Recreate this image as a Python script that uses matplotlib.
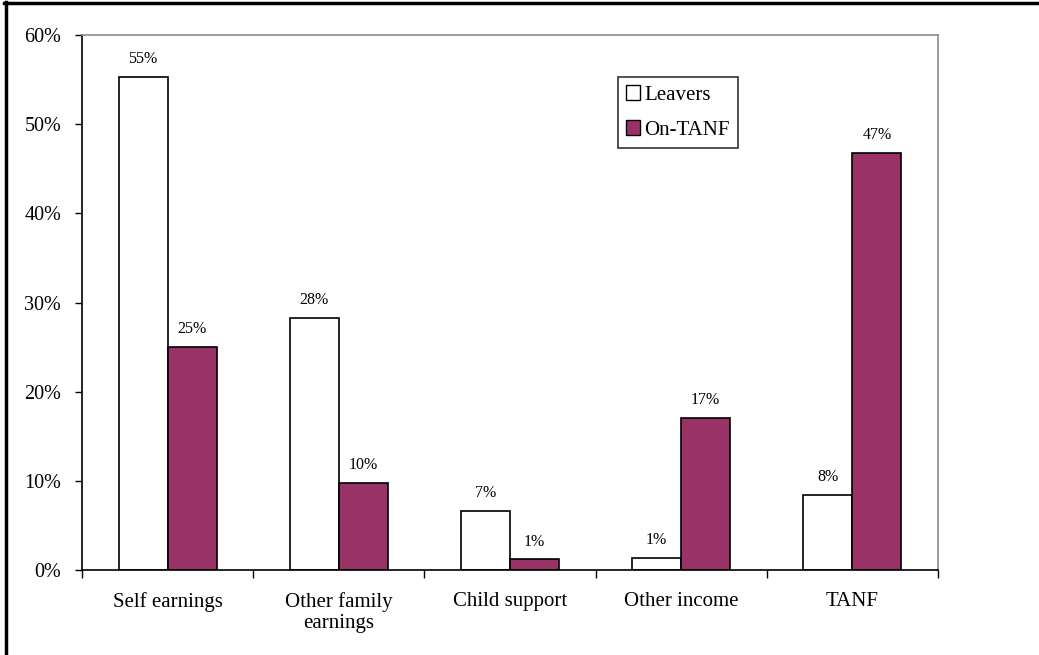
import matplotlib
matplotlib.use("Agg")
import matplotlib.pyplot as plt
import numpy as np
from matplotlib.patches import Patch
from matplotlib.lines import Line2D
from matplotlib.ticker import FuncFormatter, FixedLocator

plt.rcParams['font.family'] = ['Liberation Serif', 'DejaVu Serif']

categories = ["Self earnings", "Other family\nearnings", "Child support", "Other income", "TANF"]
leavers = [55.3, 28.3, 6.6, 1.4, 8.4]
on_tanf = [25.0, 9.8, 1.2, 17.1, 46.8]
series_names = ["Leavers", "On-TANF"]
y_ticks = [0, 10, 20, 30, 40, 50, 60]

purple = "#993366"

fig = plt.figure(figsize=(10.39, 6.55), dpi=100)
ax = fig.add_axes([82 / 1039, 1 - 570 / 655, (938 - 82) / 1039, (570 - 35) / 655])

x = np.arange(len(categories))
w = 0.286
b1 = ax.bar(x - w / 2, leavers, w, color="white", edgecolor="black", linewidth=1.2)
b2 = ax.bar(x + w / 2, on_tanf, w, color=purple, edgecolor="black", linewidth=1.2)

for bars, vals in ((b1, leavers), (b2, on_tanf)):
    for rect, v in zip(bars, vals):
        ax.annotate(f"{v:.0f}%", (rect.get_x() + rect.get_width() / 2, v),
                    xytext=(0, 7), textcoords="offset points",
                    ha="center", va="bottom", fontsize=11.5)

ax.set_xlim(-0.5, len(categories) - 0.5)
ax.set_ylim(0, 60)
ax.set_yticks(y_ticks)
ax.yaxis.set_major_formatter(FuncFormatter(lambda v, p: f"{v:.0f}%"))
ax.tick_params(axis="y", direction="out", length=5, width=1, labelsize=14.5, pad=10)

ax.set_xticks(x)
ax.set_xticklabels(categories, fontsize=15, linespacing=1.15, va="top")
ax.tick_params(axis="x", which="major", length=0, pad=16)
ax.xaxis.set_minor_locator(FixedLocator(np.arange(-0.5, len(categories), 1.0)))
ax.tick_params(axis="x", which="minor", direction="out", length=6, width=1)

ax.spines["left"].set_color("black")
ax.spines["bottom"].set_color("black")
ax.spines["top"].set_color("#8c8c8c")
ax.spines["right"].set_color("#8c8c8c")
for s in ax.spines.values():
    s.set_linewidth(1.2)

handles = [Patch(facecolor="white", edgecolor="black", linewidth=1),
           Patch(facecolor=purple, edgecolor="black", linewidth=1)]
leg = ax.legend(handles, series_names, loc="upper left",
                bbox_to_anchor=((618 - 82) / 856, (570 - 77) / 535),
                fontsize=15, frameon=True, fancybox=False, edgecolor="black",
                handlelength=0.67, handleheight=0.67, handletextpad=0.2,
                labelspacing=0.75, borderpad=0.4, borderaxespad=0)
leg.get_frame().set_linewidth(1.2)

# frame lines along the top and left edges of the figure
fig.add_artist(Line2D([5.5 / 1039, 5.5 / 1039], [0, 1 - 2 / 655], color="black", linewidth=2.5,
                      transform=fig.transFigure))
fig.add_artist(Line2D([4 / 1039, 1], [1 - 3 / 655, 1 - 3 / 655], color="black", linewidth=2.5,
                      transform=fig.transFigure))

fig.savefig("out.png", dpi=100)
